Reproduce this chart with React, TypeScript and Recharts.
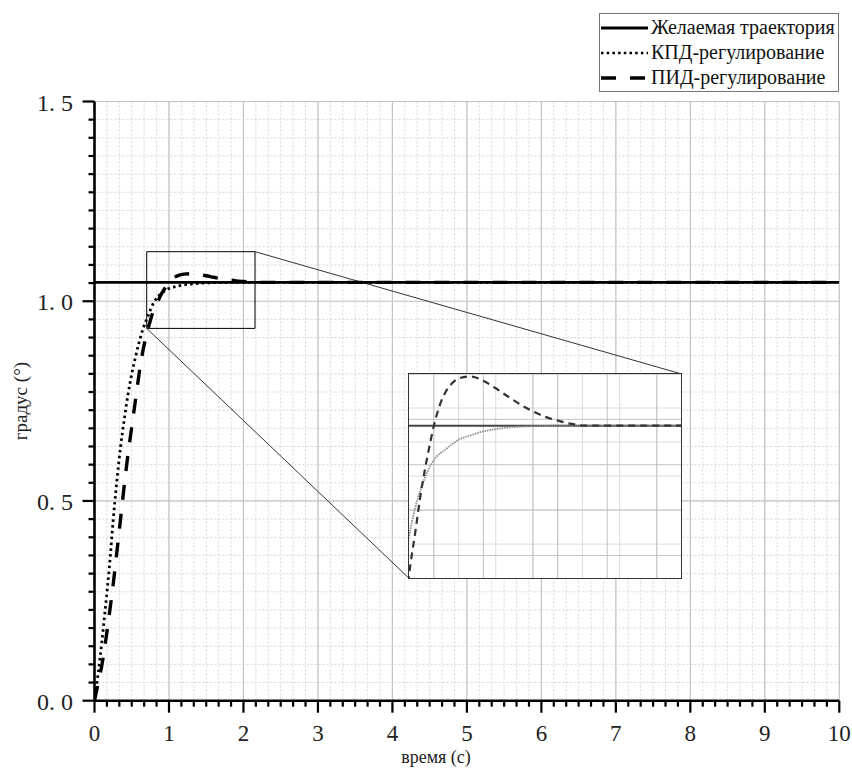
import React from 'react';
import {
  LineChart,
  Line,
  XAxis,
  YAxis,
  CartesianGrid,
  ReferenceArea,
  ReferenceLine,
  Legend,
} from 'recharts';

// ---------------- data ----------------
const X_MAJOR = [0, 1, 2, 3, 4, 5, 6, 7, 8, 9, 10];
const Y_MAJOR = [0, 0.5, 1.0, 1.5];
const X_MINOR_DIV = 6;
const Y_MINOR_DIV = 11;

const SERIES_NAMES = ['Желаемая траектория', 'КПД-регулирование', 'ПИД-регулирование'];
const X_LABEL = 'время (с)';
const Y_LABEL = 'градус (°)';

const DESIRED_T = [0, 10];
const DESIRED_V = [1.0472, 1.0472];

const KPD_T = [0, 0.05, 0.1, 0.15, 0.2, 0.25, 0.3, 0.35, 0.4, 0.45, 0.5, 0.55, 0.6, 0.65, 0.7, 0.75, 0.8, 0.85, 0.9, 0.95, 1.0, 1.1, 1.2, 1.3, 1.4, 1.5, 1.6, 1.7, 1.8, 2.0, 10];
const KPD_V = [0, 0.07, 0.15, 0.24, 0.335, 0.45, 0.55, 0.635, 0.705, 0.767, 0.818, 0.86, 0.898, 0.93, 0.955, 0.978, 0.998, 1.011, 1.02, 1.027, 1.032, 1.037, 1.041, 1.043, 1.0447, 1.0457, 1.0464, 1.0468, 1.047, 1.0472, 1.0472];

const PID_T = [0, 0.05, 0.1, 0.15, 0.2, 0.25, 0.3, 0.35, 0.4, 0.45, 0.5, 0.55, 0.6, 0.65, 0.7, 0.75, 0.8, 0.85, 0.9, 0.95, 1.0, 1.05, 1.1, 1.15, 1.2, 1.3, 1.4, 1.5, 1.6, 1.7, 1.8, 1.9, 2.0, 2.1, 2.2, 2.3, 10];
const PID_V = [0, 0.045, 0.09, 0.15, 0.218, 0.29, 0.372, 0.455, 0.54, 0.617, 0.685, 0.752, 0.82, 0.876, 0.918, 0.952, 0.981, 1.0, 1.019, 1.034, 1.047, 1.0565, 1.0625, 1.066, 1.068, 1.0689, 1.067, 1.0637, 1.06, 1.0565, 1.0535, 1.0511, 1.0495, 1.0481, 1.0473, 1.0472, 1.0472];

// zoom box (main-chart data coords) and inset view range
const ZOOM_T = [0.701, 2.155];
const ZOOM_V = [0.932, 1.124];
const INSET_T = [0.8, 3.0];
const INSET_V = [0.98, 1.07];
const INSET_T_MAJOR = [0.8, 1.0, 1.2, 1.4, 1.6, 1.8, 2.0, 2.2, 2.4, 2.6, 2.8, 3.0];
const INSET_V_MAJOR = [0.98, 0.99, 1.0, 1.01, 1.02, 1.03, 1.04, 1.05, 1.06, 1.07];
// where the inset sits, in main-chart data coords
const INSET_AT_T = [4.22, 7.88];
const INSET_AT_V = [0.307, 0.818];

// ---------------- layout ----------------
const W = 852;
const H = 778;
const PLOT = { left: 94.5, right: 839.3, top: 101.5, bottom: 700.7 };
const Y_AXIS_W = 60;
const X_AXIS_H = 60;
const SERIF = '"Liberation Serif", "DejaVu Serif", "Times New Roman", serif';

const subdivide = (majors: number[], n: number) => {
  const out: number[] = [];
  for (let i = 0; i < majors.length - 1; i++) {
    const a = majors[i];
    const b = majors[i + 1];
    for (let k = 0; k < n; k++) out.push(a + ((b - a) * k) / n);
  }
  out.push(majors[majors.length - 1]);
  return out;
};

const X_TICKS = subdivide(X_MAJOR, X_MINOR_DIV);
const Y_TICKS = subdivide(Y_MAJOR, Y_MINOR_DIV);
const INSET_T_MINOR = subdivide(INSET_T_MAJOR, 2);
const INSET_V_MINOR = subdivide(INSET_V_MAJOR, 2);

const desiredData = DESIRED_T.map((t, i) => ({ t, desired: DESIRED_V[i] }));
const kpdData = KPD_T.map((t, i) => ({ t, kpd: KPD_V[i] }));
const pidData = PID_T.map((t, i) => ({ t, pid: PID_V[i] }));

const LEGEND_STYLE: Record<string, { w: number; dash?: string }> = {
  desired: { w: 3 },
  kpd: { w: 2.6, dash: '2.5 3.2' },
  pid: { w: 3.5, dash: '15 14' },
};

const isMajor = (v: number, majors: number[]) => majors.some((m) => Math.abs(m - v) < 1e-6);

const TICK_W = 2.2;

const LeftTick = (props: any) => {
  const { x, y, payload } = props;
  const v = payload.value as number;
  const maj = isMajor(v, Y_MAJOR);
  const s = v.toFixed(1).split('.');
  return (
    <g>
      <line x1={x} y1={y} x2={x - (maj ? 12 : 6)} y2={y} stroke="#000" strokeWidth={TICK_W} />
      {maj && (
        <text x={x - 21.5} y={y + 9} textAnchor="end" fontSize={24} fontFamily={SERIF} fill="#222">
          {s[0]}.<tspan dx={6}>{s[1]}</tspan>
        </text>
      )}
    </g>
  );
};

const BottomTick = (props: any) => {
  const { x, y, payload } = props;
  const v = payload.value as number;
  const maj = isMajor(v, X_MAJOR);
  return (
    <g>
      <line x1={x} y1={y} x2={x} y2={y + (maj ? 12 : 6)} stroke="#000" strokeWidth={TICK_W} />
      {maj && (
        <text x={x} y={y + 40} textAnchor="middle" fontSize={23} fontFamily={SERIF} fill="#222">
          {String(Math.round(v))}
        </text>
      )}
    </g>
  );
};

const TopTick = (props: any) => {
  const { x, y, payload } = props;
  const maj = isMajor(payload.value, X_MAJOR);
  return <line x1={x} y1={y} x2={x} y2={y + (maj ? 11 : 5)} stroke="#000" strokeWidth={TICK_W} />;
};

const RightTick = (props: any) => {
  const { x, y, payload } = props;
  const maj = isMajor(payload.value, Y_MAJOR);
  return <line x1={x} y1={y} x2={x - (maj ? 11 : 6)} y2={y} stroke="#000" strokeWidth={TICK_W} />;
};

const LegendBox = (props: any) => {
  const payload = props.payload || [];
  return (
    <div
      style={{
        border: '1px solid #777',
        background: '#fff',
        padding: '1px 3px 1px 1px',
        fontFamily: SERIF,
        fontSize: 20,
        color: '#111',
        display: 'inline-block',
      }}
    >
      {payload.map((p: any) => {
        const st = LEGEND_STYLE[p.dataKey] || { w: 2 };
        return (
          <div key={p.dataKey} style={{ display: 'flex', alignItems: 'center', height: 25, whiteSpace: 'nowrap' }}>
            <svg width={47} height={10} style={{ display: 'block' }}>
              <line x1={0} y1={5} x2={47} y2={5} stroke="#000" strokeWidth={st.w} strokeDasharray={st.dash} />
            </svg>
            <span style={{ marginLeft: 3, lineHeight: '25px' }}>{p.value}</span>
          </div>
        );
      })}
    </div>
  );
};

const xPx = (t: number) => PLOT.left + ((t - X_MAJOR[0]) / (X_MAJOR[X_MAJOR.length - 1] - X_MAJOR[0])) * (PLOT.right - PLOT.left);
const yPx = (v: number) => PLOT.bottom - ((v - Y_MAJOR[0]) / (Y_MAJOR[Y_MAJOR.length - 1] - Y_MAJOR[0])) * (PLOT.bottom - PLOT.top);

export default function App() {
  const insetLeft = xPx(INSET_AT_T[0]);
  const insetRight = xPx(INSET_AT_T[1]);
  const insetTop = yPx(INSET_AT_V[1]);
  const insetBottom = yPx(INSET_AT_V[0]);
  const insetW = insetRight - insetLeft;
  const insetH = insetBottom - insetTop;

  return (
    <div style={{ position: 'absolute', left: 0, top: 0, width: W, height: H, background: '#fff' }}>
      <LineChart
        width={W}
        height={H}
        margin={{ top: PLOT.top, right: W - PLOT.right, bottom: H - PLOT.bottom - X_AXIS_H, left: PLOT.left - Y_AXIS_W }}
      >
        <CartesianGrid
          verticalValues={X_TICKS}
          horizontalValues={Y_TICKS}
          stroke="#d6d6d6"
          strokeWidth={1}
          strokeDasharray="2 2"
        />
        <CartesianGrid verticalValues={X_MAJOR} horizontalValues={Y_MAJOR} stroke="#c4c4c4" strokeWidth={1.2} />
        <XAxis
          type="number"
          dataKey="t"
          domain={[X_MAJOR[0], X_MAJOR[X_MAJOR.length - 1]]}
          ticks={X_TICKS}
          interval={0}
          tickSize={0}
          tickMargin={0}
          tick={BottomTick}
          height={X_AXIS_H}
          axisLine={{ stroke: '#000', strokeWidth: 2.6 }}
          allowDataOverflow
          label={{
            content: () => (
              <text x={436} y={763} textAnchor="middle" fontSize={18} fontFamily={SERIF} fill="#222">
                {X_LABEL}
              </text>
            ),
          }}
        />
        <XAxis
          xAxisId="top"
          orientation="top"
          type="number"
          domain={[X_MAJOR[0], X_MAJOR[X_MAJOR.length - 1]]}
          ticks={X_TICKS}
          interval={0}
          tickSize={0}
          tickMargin={0}
          tick={TopTick}
          height={0}
          axisLine={{ stroke: '#000', strokeWidth: 2.6 }}
          allowDataOverflow
        />
        <YAxis
          type="number"
          domain={[Y_MAJOR[0], Y_MAJOR[Y_MAJOR.length - 1]]}
          ticks={Y_TICKS}
          interval={0}
          tickSize={0}
          tickMargin={0}
          tick={LeftTick}
          width={Y_AXIS_W}
          axisLine={{ stroke: '#000', strokeWidth: 2.6 }}
          allowDataOverflow
          label={{
            content: () => (
              <text
                transform={`translate(27, ${(PLOT.top + PLOT.bottom) / 2}) rotate(-90)`}
                textAnchor="middle"
                fontSize={19}
                fontFamily={SERIF}
                fill="#222"
              >
                {Y_LABEL}
              </text>
            ),
          }}
        />
        <YAxis
          yAxisId="right"
          orientation="right"
          type="number"
          domain={[Y_MAJOR[0], Y_MAJOR[Y_MAJOR.length - 1]]}
          ticks={Y_TICKS}
          interval={0}
          tickSize={0}
          tickMargin={0}
          tick={RightTick}
          width={0}
          axisLine={{ stroke: '#000', strokeWidth: 2.6 }}
          allowDataOverflow
        />
        <ReferenceArea
          x1={ZOOM_T[0]}
          x2={ZOOM_T[1]}
          y1={ZOOM_V[0]}
          y2={ZOOM_V[1]}
          fill="none"
          stroke="#000"
          strokeWidth={1}
          ifOverflow="visible"
        />
        <ReferenceLine
          segment={[
            { x: ZOOM_T[1], y: ZOOM_V[1] },
            { x: INSET_AT_T[1], y: INSET_AT_V[1] },
          ]}
          stroke="#333"
          strokeWidth={1}
          ifOverflow="visible"
        />
        <ReferenceLine
          segment={[
            { x: ZOOM_T[0], y: ZOOM_V[0] },
            { x: INSET_AT_T[0], y: INSET_AT_V[0] },
          ]}
          stroke="#333"
          strokeWidth={1}
          ifOverflow="visible"
        />
        <Line
          data={desiredData}
          dataKey="desired"
          name={SERIES_NAMES[0]}
          type="linear"
          stroke="#000"
          strokeWidth={2.6}
          dot={false}
          activeDot={false}
          isAnimationActive={false}
        />
        <Line
          data={kpdData}
          dataKey="kpd"
          name={SERIES_NAMES[1]}
          type="monotone"
          stroke="#000"
          strokeWidth={2.8}
          strokeDasharray="2.5 3.3"
          dot={false}
          activeDot={false}
          isAnimationActive={false}
        />
        <Line
          data={pidData}
          dataKey="pid"
          name={SERIES_NAMES[2]}
          type="monotone"
          stroke="#000"
          strokeWidth={3.4}
          strokeDasharray="15 14"
          dot={false}
          activeDot={false}
          isAnimationActive={false}
        />
        <Legend
          layout="horizontal"
          verticalAlign="middle"
          align="center"
          content={LegendBox}
          wrapperStyle={{ left: 599, top: 13, width: 'auto', height: 'auto' }}
        />
      </LineChart>

      <div
        style={{
          position: 'absolute',
          left: insetLeft,
          top: insetTop,
          width: insetW,
          height: insetH,
          background: '#fff',
          outline: '1.6px solid #333',
        }}
      >
        <LineChart width={insetW} height={insetH} margin={{ top: 0, right: 0, bottom: 0, left: 0 }}>
          <XAxis type="number" dataKey="t" domain={INSET_T} allowDataOverflow hide />
          <YAxis type="number" domain={INSET_V} allowDataOverflow hide />
          <CartesianGrid verticalValues={INSET_T_MINOR} horizontalValues={INSET_V_MINOR} stroke="#dcdcdc" strokeWidth={1} />
          <CartesianGrid verticalValues={INSET_T_MAJOR} horizontalValues={INSET_V_MAJOR} stroke="#c2c2c2" strokeWidth={1} />
          <Line
            data={desiredData}
            dataKey="desired"
            type="linear"
            stroke="#444"
            strokeWidth={2}
            dot={false}
            activeDot={false}
            isAnimationActive={false}
          />
          <Line
            data={kpdData}
            dataKey="kpd"
            type="monotone"
            stroke="#8a8a8a"
            strokeWidth={1.8}
            strokeDasharray="1.5 1"
            dot={false}
            activeDot={false}
            isAnimationActive={false}
          />
          <Line
            data={pidData}
            dataKey="pid"
            type="monotone"
            stroke="#333"
            strokeWidth={2.2}
            strokeDasharray="7 5"
            dot={false}
            activeDot={false}
            isAnimationActive={false}
          />
        </LineChart>
      </div>
    </div>
  );
}
